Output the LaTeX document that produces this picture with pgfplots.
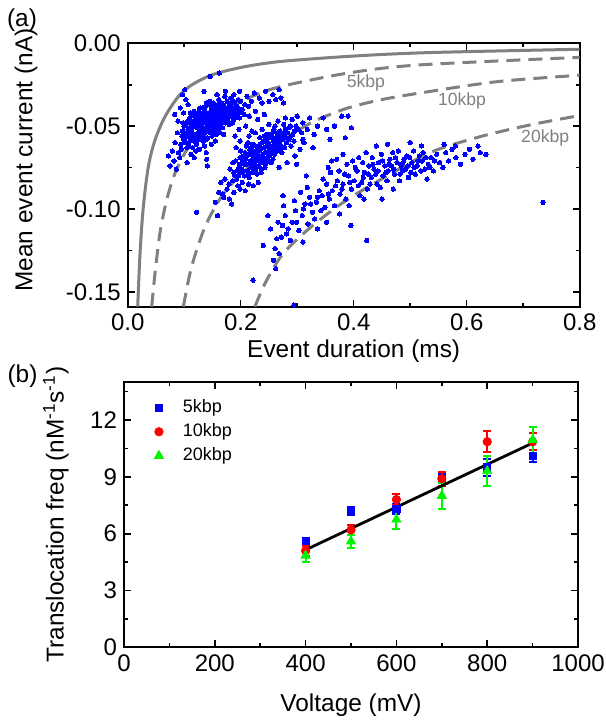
\documentclass[border=0pt]{standalone}
\usepackage{fontspec}
\setmainfont{Liberation Sans}
\usepackage{pgfplots}
\pgfplotsset{compat=1.18}

\definecolor{cgray}{RGB}{128,128,128}
\definecolor{cgreen}{RGB}{0,245,0}

\pgfplotsset{
  every axis/.append style={
    scale only axis,
    axis line style={line width=1pt},
    every tick/.style={black, line width=0.8pt},
    major tick length=3.5pt,
    minor tick length=2pt,
    tick align=inside,
    xtick pos=both, ytick pos=both,
    xticklabel pos=lower, yticklabel pos=left,
    tick label style={font=\fontsize{12}{14}\selectfont},
    label style={font=\fontsize{12.2}{14}\selectfont},
    /pgf/number format/assume math mode=true,
  },
}

\begin{document}
\begin{tikzpicture}
\useasboundingbox (0,0) rectangle (302.5pt,360.5pt);

% ---------- (a) ----------
\begin{axis}[
    at={(63.85pt,207.15pt)}, anchor=south west,
    width=226pt, height=131.7pt,
    xmin=0, xmax=0.8, ymin=-0.159, ymax=0,
    xtick={0,0.2,0.4,0.6,0.8}, minor xtick={0.1,0.3,0.5,0.7},
    ytick={0,-0.05,-0.1,-0.15}, minor ytick={-0.025,-0.075,-0.125},
    xticklabel style={/pgf/number format/.cd,fixed,fixed zerofill,precision=1},
    yticklabel style={/pgf/number format/.cd,fixed,fixed zerofill,precision=2},
    xlabel={Event duration (ms)},
    ylabel={Mean event current (nA)},
    xlabel style={at={(axis description cs:0.5,-0.17)}, anchor=center},
    ylabel style={at={(axis description cs:-0.225,0.557)}, anchor=center},
]
% events (duration ms, current nA)
\addplot[only marks, mark=*, mark size=1.1pt, color=blue, mark options={draw=blue, fill=blue, line width=0pt}] coordinates {
(0.113,-0.052)(0.147,-0.041)(0.128,-0.057)(0.171,-0.044)(0.094,-0.061)(0.158,-0.049)(0.136,-0.043)(0.189,-0.036)(0.121,-0.048)(0.104,-0.055)(0.165,-0.038)(0.142,-0.053)(0.178,-0.047)(0.117,-0.059)(0.153,-0.044)(0.199,-0.041)(0.131,-0.05)(0.109,-0.046)(0.183,-0.033)(0.149,-0.056)(0.124,-0.044)(0.162,-0.046)(0.097,-0.053)(0.138,-0.038)(0.174,-0.04)(0.115,-0.063)(0.192,-0.044)(0.145,-0.047)(0.127,-0.053)(0.156,-0.04)(0.103,-0.049)(0.168,-0.051)(0.134,-0.046)(0.186,-0.039)(0.119,-0.055)(0.151,-0.036)(0.207,-0.037)(0.139,-0.058)(0.111,-0.042)(0.176,-0.035)(0.129,-0.048)(0.159,-0.053)(0.099,-0.058)(0.144,-0.042)(0.181,-0.043)(0.122,-0.061)(0.167,-0.042)(0.135,-0.055)(0.196,-0.034)(0.107,-0.052)(0.154,-0.048)(0.126,-0.041)(0.173,-0.048)(0.141,-0.05)(0.116,-0.05)(0.161,-0.034)(0.188,-0.046)(0.132,-0.044)(0.102,-0.057)(0.148,-0.039)(0.179,-0.038)(0.12,-0.046)(0.157,-0.045)(0.137,-0.051)(0.203,-0.04)(0.112,-0.057)(0.169,-0.037)(0.143,-0.045)(0.125,-0.054)(0.184,-0.041)(0.152,-0.052)(0.108,-0.061)(0.133,-0.039)(0.164,-0.049)(0.118,-0.044)(0.193,-0.038)(0.146,-0.054)(0.13,-0.045)(0.175,-0.044)(0.1,-0.05)(0.155,-0.042)(0.14,-0.047)(0.187,-0.035)(0.123,-0.051)(0.166,-0.045)(0.114,-0.054)(0.15,-0.05)(0.172,-0.032)(0.134,-0.059)(0.198,-0.045)(0.106,-0.047)(0.16,-0.041)(0.127,-0.047)(0.18,-0.049)(0.144,-0.037)(0.119,-0.057)(0.157,-0.055)(0.137,-0.041)(0.191,-0.042)(0.11,-0.059)(0.148,-0.046)(0.169,-0.047)(0.131,-0.052)(0.177,-0.042)(0.121,-0.043)(0.154,-0.038)(0.096,-0.056)(0.142,-0.049)(0.185,-0.044)(0.126,-0.058)(0.163,-0.043)(0.105,-0.063)(0.138,-0.045)(0.195,-0.039)(0.116,-0.047)(0.158,-0.047)(0.147,-0.051)(0.17,-0.04)(0.129,-0.042)(0.182,-0.037)(0.113,-0.049)(0.152,-0.043)(0.135,-0.048)(0.2,-0.035)(0.101,-0.054)(0.166,-0.036)(0.124,-0.056)(0.145,-0.035)(0.178,-0.045)(0.139,-0.053)(0.16,-0.051)(0.118,-0.05)(0.189,-0.04)(0.132,-0.055)(0.15,-0.047)(0.108,-0.055)(0.174,-0.046)(0.143,-0.043)(0.123,-0.045)(0.163,-0.039)(0.136,-0.062)(0.195,-0.043)(0.112,-0.044)(0.156,-0.05)(0.128,-0.039)(0.181,-0.04)(0.149,-0.044)(0.103,-0.06)(0.17,-0.043)(0.141,-0.057)(0.121,-0.065)(0.186,-0.048)(0.133,-0.047)(0.159,-0.037)(0.117,-0.041)(0.176,-0.039)(0.145,-0.052)(0.098,-0.048)(0.164,-0.054)(0.13,-0.057)(0.206,-0.043)(0.109,-0.051)(0.153,-0.055)(0.139,-0.036)(0.184,-0.036)(0.125,-0.05)(0.168,-0.044)
(0.072,-0.068)(0.075,-0.074)(0.079,-0.065)(0.082,-0.071)(0.086,-0.076)(0.09,-0.066)(0.084,-0.06)(0.088,-0.054)(0.092,-0.069)(0.095,-0.064)(0.089,-0.047)(0.083,-0.043)(0.093,-0.039)(0.097,-0.031)(0.101,-0.028)(0.103,-0.034)(0.107,-0.037)(0.099,-0.042)(0.112,-0.067)(0.118,-0.069)(0.127,-0.064)(0.105,-0.072)(0.146,-0.02)(0.162,-0.018)(0.135,-0.029)(0.158,-0.031)(0.173,-0.029)(0.188,-0.031)(0.198,-0.029)(0.211,-0.032)(0.214,-0.038)(0.219,-0.035)(0.224,-0.03)(0.226,-0.041)(0.233,-0.033)(0.238,-0.036)(0.244,-0.029)(0.25,-0.035)(0.257,-0.031)(0.262,-0.034)(0.268,-0.028)(0.271,-0.033)(0.276,-0.036)(0.23,-0.046)(0.215,-0.044)(0.209,-0.05)(0.242,-0.043)(0.22,-0.053)(0.197,-0.052)(0.19,-0.056)(0.148,-0.061)(0.139,-0.066)(0.155,-0.059)(0.17,-0.055)
(0.231,-0.068)(0.205,-0.077)(0.262,-0.058)(0.219,-0.063)(0.248,-0.071)(0.193,-0.082)(0.277,-0.055)(0.238,-0.06)(0.211,-0.073)(0.255,-0.064)(0.226,-0.076)(0.285,-0.051)(0.199,-0.069)(0.243,-0.066)(0.269,-0.061)(0.215,-0.081)(0.234,-0.057)(0.258,-0.053)(0.188,-0.078)(0.222,-0.07)(0.273,-0.066)(0.245,-0.059)(0.208,-0.066)(0.292,-0.055)(0.229,-0.079)(0.251,-0.068)(0.197,-0.075)(0.266,-0.054)(0.236,-0.072)(0.213,-0.06)(0.281,-0.06)(0.241,-0.063)(0.203,-0.084)(0.259,-0.061)(0.224,-0.066)(0.298,-0.05)(0.218,-0.075)(0.247,-0.055)(0.191,-0.071)(0.274,-0.058)(0.232,-0.074)(0.256,-0.057)(0.209,-0.07)(0.287,-0.057)(0.227,-0.062)(0.264,-0.065)(0.201,-0.078)(0.239,-0.069)(0.253,-0.062)(0.216,-0.067)(0.279,-0.052)(0.244,-0.073)(0.195,-0.086)(0.268,-0.057)(0.221,-0.078)(0.235,-0.064)(0.261,-0.05)(0.206,-0.073)(0.294,-0.059)(0.25,-0.065)(0.228,-0.071)(0.272,-0.062)(0.212,-0.077)(0.242,-0.056)(0.186,-0.083)(0.257,-0.07)(0.233,-0.065)(0.283,-0.054)(0.217,-0.071)(0.265,-0.06)(0.2,-0.065)(0.246,-0.062)(0.225,-0.073)(0.276,-0.049)(0.237,-0.076)(0.254,-0.055)(0.21,-0.062)(0.289,-0.062)(0.223,-0.068)(0.26,-0.067)(0.194,-0.077)(0.24,-0.059)(0.27,-0.053)(0.214,-0.085)(0.249,-0.06)(0.23,-0.07)(0.302,-0.052)(0.204,-0.071)(0.263,-0.063)(0.22,-0.065)(0.247,-0.069)(0.278,-0.063)(0.207,-0.08)(0.234,-0.061)(0.256,-0.066)(0.19,-0.08)(0.227,-0.067)(0.267,-0.059)(0.243,-0.075)(0.218,-0.072)(0.285,-0.058)(0.252,-0.057)(0.198,-0.073)(0.239,-0.067)(0.274,-0.055)(0.211,-0.068)(0.258,-0.059)(0.229,-0.064)(0.295,-0.053)(0.246,-0.066)(0.202,-0.076)(0.221,-0.061)(0.264,-0.056)(0.236,-0.078)(0.28,-0.057)(0.213,-0.079)(0.25,-0.063)(0.226,-0.069)(0.271,-0.064)(0.196,-0.08)(0.241,-0.071)(0.259,-0.052)(0.216,-0.064)(0.308,-0.054)(0.232,-0.07)(0.262,-0.061)(0.205,-0.068)(0.254,-0.072)(0.288,-0.05)
(0.172,-0.082)(0.176,-0.088)(0.18,-0.094)(0.168,-0.091)(0.155,-0.096)(0.161,-0.09)(0.184,-0.097)(0.179,-0.085)(0.165,-0.084)(0.17,-0.093)(0.188,-0.09)(0.199,-0.088)(0.208,-0.089)(0.222,-0.086)(0.231,-0.084)(0.186,-0.072)(0.181,-0.076)(0.14,-0.07)(0.141,-0.074)(0.192,-0.063)(0.199,-0.059)(0.215,-0.056)(0.226,-0.054)(0.238,-0.052)(0.25,-0.049)(0.266,-0.047)(0.279,-0.045)(0.291,-0.046)(0.3,-0.044)(0.31,-0.048)(0.318,-0.052)(0.322,-0.045)(0.33,-0.055)(0.336,-0.05)(0.346,-0.045)(0.352,-0.052)(0.358,-0.058)(0.366,-0.05)(0.379,-0.044)(0.39,-0.044)(0.396,-0.051)(0.385,-0.057)(0.328,-0.063)(0.312,-0.06)(0.305,-0.064)(0.316,-0.08)(0.361,-0.071)(0.275,-0.092)(0.296,-0.068)(0.31,-0.058)(0.299,-0.073)(0.282,-0.072)(0.268,-0.075)
(0.253,-0.112)(0.261,-0.124)(0.266,-0.108)(0.258,-0.131)(0.272,-0.117)(0.279,-0.104)(0.268,-0.127)(0.284,-0.112)(0.276,-0.098)(0.291,-0.108)(0.288,-0.119)(0.297,-0.101)(0.303,-0.113)(0.295,-0.095)(0.309,-0.104)(0.314,-0.097)(0.306,-0.09)(0.319,-0.109)(0.322,-0.093)(0.327,-0.102)(0.318,-0.087)(0.334,-0.096)(0.339,-0.089)(0.331,-0.106)(0.344,-0.092)(0.349,-0.099)(0.352,-0.085)(0.357,-0.094)(0.346,-0.082)(0.362,-0.089)(0.366,-0.098)(0.371,-0.083)(0.359,-0.078)(0.376,-0.091)(0.381,-0.085)(0.374,-0.077)(0.386,-0.094)(0.391,-0.08)(0.388,-0.073)(0.396,-0.088)(0.401,-0.083)(0.398,-0.071)(0.406,-0.077)(0.411,-0.092)(0.409,-0.069)(0.414,-0.084)(0.419,-0.078)(0.416,-0.072)(0.424,-0.088)(0.427,-0.074)(0.422,-0.066)(0.431,-0.081)(0.436,-0.076)(0.433,-0.069)(0.441,-0.085)(0.444,-0.072)(0.439,-0.079)(0.449,-0.067)(0.452,-0.08)(0.455,-0.074)(0.447,-0.087)(0.461,-0.077)(0.464,-0.07)(0.459,-0.083)(0.469,-0.066)(0.472,-0.079)(0.467,-0.074)(0.477,-0.072)(0.481,-0.083)(0.479,-0.065)(0.486,-0.077)(0.489,-0.07)(0.484,-0.074)(0.494,-0.068)(0.497,-0.081)(0.492,-0.076)(0.503,-0.072)(0.506,-0.065)(0.501,-0.078)(0.512,-0.074)(0.516,-0.068)(0.509,-0.079)(0.521,-0.071)(0.526,-0.076)(0.523,-0.066)(0.532,-0.073)(0.537,-0.069)(0.541,-0.077)(0.547,-0.067)(0.552,-0.072)(0.558,-0.075)(0.563,-0.066)(0.568,-0.071)(0.574,-0.064)(0.581,-0.069)(0.589,-0.073)(0.597,-0.067)(0.611,-0.07)(0.624,-0.066)(0.634,-0.067)
(0.342,-0.101)(0.355,-0.091)(0.368,-0.086)(0.379,-0.088)(0.384,-0.079)(0.393,-0.084)(0.403,-0.075)(0.408,-0.086)(0.417,-0.081)(0.426,-0.079)(0.429,-0.085)(0.434,-0.073)(0.443,-0.077)(0.451,-0.071)(0.457,-0.078)(0.462,-0.073)(0.471,-0.076)(0.474,-0.069)(0.482,-0.079)(0.487,-0.072)(0.496,-0.074)(0.499,-0.069)(0.507,-0.075)(0.514,-0.071)(0.519,-0.077)(0.528,-0.069)(0.535,-0.075)(0.543,-0.071)(0.299,-0.108)(0.311,-0.1)(0.324,-0.097)(0.336,-0.093)(0.281,-0.115)(0.264,-0.118)(0.274,-0.11)
(0.735,-0.096)(0.423,-0.119)(0.395,-0.11)(0.294,-0.158)(0.222,-0.143)(0.122,-0.102)(0.159,-0.104)(0.262,-0.136)(0.31,-0.12)(0.336,-0.112)(0.375,-0.103)(0.45,-0.094)(0.37,-0.07)(0.355,-0.075)(0.381,-0.067)(0.44,-0.062)(0.46,-0.061)(0.5,-0.06)(0.52,-0.062)(0.56,-0.061)(0.58,-0.062)(0.605,-0.064)(0.62,-0.062)(0.24,-0.122)(0.248,-0.104)(0.352,-0.108)(0.392,-0.098)(0.418,-0.094)(0.47,-0.088)(0.53,-0.082)
};
% solid curve
\addplot[cgray, line width=1.5pt, smooth] coordinates {
(0.0177,-0.159)(0.0218,-0.127)(0.0276,-0.099)(0.0365,-0.0745)(0.0483,-0.0584)(0.066,-0.0443)(0.0896,-0.0322)(0.113,-0.0252)(0.149,-0.0191)(0.2017,-0.0145)(0.27,-0.011)(0.4,-0.0077)(0.535,-0.0056)(0.8,-0.0036)
};
% 5kbp
\addplot[cgray, line width=1.5pt, dash pattern=on 7pt off 4pt, smooth] coordinates {
(0.0425,-0.159)(0.0483,-0.139)(0.057,-0.1147)(0.069,-0.0946)(0.0837,-0.0785)(0.1044,-0.0644)(0.131,-0.0524)(0.172,-0.0403)(0.2195,-0.0322)(0.27,-0.0262)(0.3876,-0.0181)(0.514,-0.0131)(0.8,-0.0085)
};
% 10kbp
\addplot[cgray, line width=1.5pt, dash pattern=on 7pt off 4pt, smooth] coordinates {
(0.0985,-0.159)(0.113,-0.135)(0.137,-0.1107)(0.166,-0.0926)(0.2018,-0.0785)(0.243,-0.0664)(0.275,-0.0584)(0.3285,-0.0473)(0.3876,-0.0393)(0.4466,-0.0342)(0.514,-0.0302)(0.653,-0.0232)(0.8,-0.0193)
};
% 20kbp
\addplot[cgray, line width=1.5pt, dash pattern=on 7pt off 4pt, smooth] coordinates {
(0.2253,-0.159)(0.243,-0.145)(0.2754,-0.1268)(0.3285,-0.1097)(0.3876,-0.0946)(0.4466,-0.0825)(0.535,-0.066)(0.6235,-0.0564)(0.712,-0.0493)(0.8,-0.0436)
};
\node[cgray, font=\fontsize{8.8}{10}\selectfont] at (axis cs:0.4217,-0.0237) {5kbp};
\node[cgray, font=\fontsize{8.8}{10}\selectfont] at (axis cs:0.5917,-0.0347) {10kbp};
\node[cgray, font=\fontsize{8.8}{10}\selectfont] at (axis cs:0.739,-0.0569) {20kbp};
\end{axis}

% ---------- (b) ----------
\begin{axis}[
    at={(62pt,36.75pt)}, anchor=south west,
    width=227pt, height=132.75pt,
    xmin=0, xmax=1000, ymin=0, ymax=14,
    xtick={0,200,...,1000}, minor xtick={100,300,...,900},
    ytick={0,3,...,12}, minor ytick={1.5,4.5,...,13.5},
    scaled x ticks=false,
    xticklabel style={/pgf/number format/1000 sep={}},
    xlabel={Voltage (mV)},
    ylabel={Translocation freq (nM\textsuperscript{-1}s\textsuperscript{-1})},
    xlabel style={at={(axis description cs:0.5,-0.219)}, anchor=center},
    ylabel style={at={(axis description cs:-0.15,0.5)}, anchor=center},
    legend style={at={(0.053,0.965)}, anchor=north west, draw=none, fill=none,
        font=\fontsize{9}{10.5}\selectfont, row sep=0pt},
    legend cell align=left,
    legend image code/.code={\path (-2pt,0pt) (9.8pt,0pt); \draw[#1] plot coordinates {(0pt,0pt)};},
]
\addplot[only marks, mark=square*, mark size=1.8pt, color=blue,
    error bars/.cd, y dir=both, y explicit,
    error bar style={line width=1pt},
    error mark options={rotate=90, mark size=2pt, line width=1pt}]
coordinates {
(400,5.6) +- (0,0.18)
(500,7.2) +- (0,0.2)
(600,7.3) +- (0,0.25)
(700,8.95) +- (0,0.2)
(800,9.5) +- (0,0.45)
(900,10.1) +- (0,0.3)
};
\addlegendentry{5kbp}
\addplot[only marks, mark=*, mark size=2.1pt, color=red,
    error bars/.cd, y dir=both, y explicit,
    error bar style={line width=1pt},
    error mark options={rotate=90, mark size=2pt, line width=1pt}]
coordinates {
(400,5.1) +- (0,0.25)
(500,6.2) +- (0,0.27)
(600,7.8) +- (0,0.3)
(700,8.9) +- (0,0.37)
(800,10.85) +- (0,0.55)
(900,10.85) +- (0,0.45)
};
\addlegendentry{10kbp}
\addplot[only marks, mark=triangle*, mark size=2.6pt, color=cgreen,
    error bars/.cd, y dir=both, y explicit,
    error bar style={line width=1pt},
    error mark options={rotate=90, mark size=2pt, line width=1pt}]
coordinates {
(400,4.85) +- (0,0.35)
(500,5.6) +- (0,0.35)
(600,6.75) +- (0,0.5)
(700,8.0) +- (0,0.7)
(800,9.3) +- (0,0.78)
(900,10.95) +- (0,0.7)
};
\addlegendentry{20kbp}
\addplot[black, line width=1.4pt, forget plot] coordinates {(400,5.15)(900,10.78)};
\end{axis}

\node[font=\fontsize{12.2}{14}\selectfont] at (11pt,350.5pt) {(a)};
\node[font=\fontsize{12.2}{14}\selectfont] at (11.25pt,172.5pt) {(b)};
\end{tikzpicture}
\end{document}
